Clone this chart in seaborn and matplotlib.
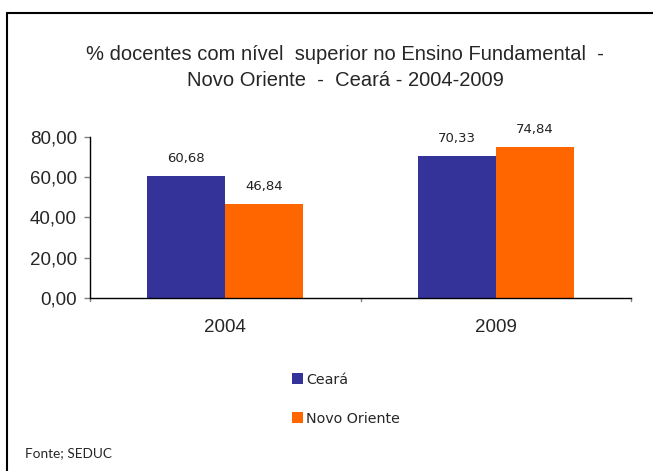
import matplotlib
matplotlib.use("Agg")
import matplotlib.pyplot as plt
import seaborn as sns
import pandas as pd
from matplotlib.lines import Line2D
from matplotlib.patches import Patch

years = ["2004", "2009"]
series = ["Ceará", "Novo Oriente"]
ceara = [60.68, 70.33]
novo_oriente = [46.84, 74.84]
yticks = [0, 20, 40, 60, 80]
colors = ["#333399", "#FF6600"]

df = pd.DataFrame({
    "Ano": years * 2,
    "Série": [series[0]] * 2 + [series[1]] * 2,
    "Valor": ceara + novo_oriente,
})

sns.set_style("white")
plt.rcParams["font.family"] = ["Liberation Sans", "DejaVu Sans"]

fig = plt.figure(figsize=(6.53, 4.71), dpi=100)
ax = fig.add_axes([90/653, 1-298/471, (631-90)/653, (298-137)/471])

sns.barplot(data=df, x="Ano", y="Valor", hue="Série", palette=colors,
            width=0.577, ax=ax, legend=False, saturation=1, linewidth=0)
ax.set_xlim(-0.5, 1.5)
ax.set_ylim(0, 80)
ax.set_yticks(yticks)
ax.set_yticklabels([f"{v:.2f}".replace(".", ",") for v in yticks], fontsize=13.5)
ax.set_xticks([0, 1])
ax.set_xticklabels(years, fontsize=13.5)
ax.tick_params(axis="x", length=0, pad=15)
ax.tick_params(axis="y", direction="out", length=4.3, width=1, color="#808080", left=True, pad=5)
for xv in [-0.5, 0.5, 1.5]:
    ax.plot([xv, xv], [0, -1.6], color="#808080", lw=1, clip_on=False)
ax.set_xlabel("")
ax.set_ylabel("")
for s in ["top", "right"]:
    ax.spines[s].set_visible(False)
ax.spines["left"].set_color("#000000")
ax.spines["bottom"].set_color("#000000")
ax.spines["left"].set_linewidth(1)
ax.spines["bottom"].set_linewidth(1)

for cont in ax.containers:
    labels = [f"{b.get_height():.2f}".replace(".", ",") for b in cont]
    ax.bar_label(cont, labels=labels, padding=8, fontsize=9.5,
                 family=["DejaVu Sans"], color="#222222")

title_font = ["Liberation Sans", "DejaVu Sans"]
fig.text(345/653, 1-55/471, "% docentes com nível  superior no Ensino Fundamental  -",
         ha="center", va="center", fontsize=14.5, family=title_font)
fig.text(345/653, 1-81/471, "Novo Oriente  -  Ceará - 2004-2009",
         ha="center", va="center", fontsize=14.5, family=title_font)

handles = [Patch(facecolor=c, edgecolor="none") for c in colors]
fig.legend(handles, series, loc="upper left", bbox_to_anchor=(279/653, 1-360/471),
           frameon=False, prop={"family": "DejaVu Sans", "size": 10.3},
           handlelength=0.8, handleheight=0.8, handletextpad=0.2, labelspacing=1.75)

fig.text(25/653, 1-453/471, "Fonte; SEDUC", ha="left", va="center",
         fontsize=9.8, family=["Lato", "DejaVu Sans"])

fig.add_artist(Line2D([7/653, 7/653], [0, 1-13/471], color="black", lw=1.5,
                      transform=fig.transFigure))
fig.add_artist(Line2D([7/653, 1], [1-13/471, 1-13/471], color="black", lw=1.5,
                      transform=fig.transFigure))

fig.savefig("out.png", dpi=100)
